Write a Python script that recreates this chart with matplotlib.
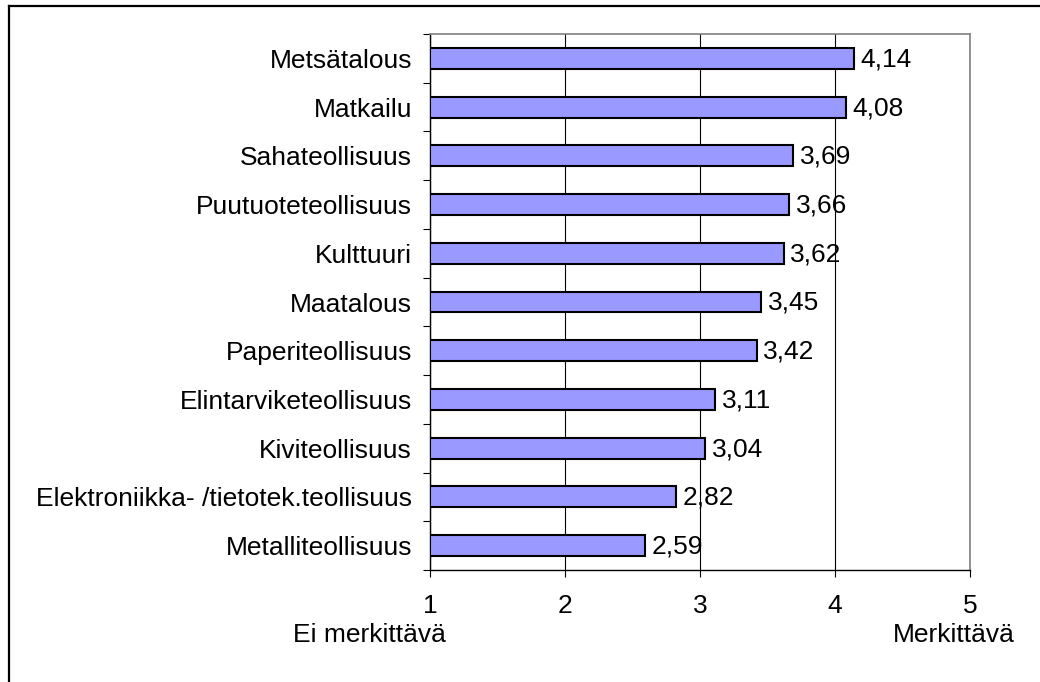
import numpy as np
import matplotlib as mpl
import matplotlib.pyplot as plt
from matplotlib.lines import Line2D

mpl.rcParams['font.family'] = ['Liberation Sans', 'DejaVu Sans']

# data
categories = ['Metsätalous', 'Matkailu', 'Sahateollisuus', 'Puutuoteteollisuus',
              'Kulttuuri', 'Maatalous', 'Paperiteollisuus', 'Elintarviketeollisuus',
              'Kiviteollisuus', 'Elektroniikka- /tietotek.teollisuus',
              'Metalliteollisuus']
values = [4.14, 4.08, 3.69, 3.66, 3.62, 3.45, 3.42, 3.11, 3.04, 2.82, 2.59]
x_ticks = [1, 2, 3, 4, 5]

fs = 19

fig = plt.figure(figsize=(10.4, 6.82), dpi=100)
ax = fig.add_axes([430 / 1040, 1 - 570 / 682, 540 / 1040, 536 / 682])

y = np.arange(len(categories))[::-1]
ax.barh(y, [v - 1 for v in values], left=1, height=0.43,
        color='#9999ff', edgecolor='black', linewidth=1.5, zorder=3)

for yi, v in zip(y, values):
    ax.text(v + 0.05, yi - 0.02, f'{v:.2f}'.replace('.', ','), va='center', ha='left',
            fontsize=fs, zorder=4)

ax.set_xlim(1, 5)
ax.set_ylim(-0.5, len(categories) - 0.5)
ax.set_xticks(x_ticks)
ax.set_xticklabels([str(t) for t in x_ticks], fontsize=fs)
ax.set_yticks(y)
ax.set_yticklabels(categories, fontsize=fs)
ax.set_yticks(np.arange(-0.5, len(categories), 1), minor=True)
ax.tick_params(axis='y', which='major', length=0, pad=13)
ax.tick_params(axis='y', which='minor', length=5, width=0.8, direction='out')
ax.tick_params(axis='x', length=5, width=0.8, direction='out', pad=12)

ax.grid(axis='x', color='black', linewidth=0.8, zorder=1)
ax.set_axisbelow(True)
for s in ['top', 'right']:
    ax.spines[s].set_color('#808080')
    ax.spines[s].set_linewidth(1.2)
for s in ['left', 'bottom']:
    ax.spines[s].set_color('black')
    ax.spines[s].set_linewidth(1.0)

fig.text(369 / 1040, 1 - 635 / 682, 'Ei merkittävä', ha='center', va='center', fontsize=fs)
fig.text(954 / 1040, 1 - 635 / 682, 'Merkittävä', ha='center', va='center', fontsize=fs)

# outer frame
fig.add_artist(Line2D([9 / 1040, 9 / 1040], [0, 1 - 6 / 682], color='black', lw=1.6,
                      transform=fig.transFigure))
fig.add_artist(Line2D([9 / 1040, 1], [1 - 6 / 682, 1 - 6 / 682], color='black', lw=1.6,
                      transform=fig.transFigure))

fig.savefig('out.png', dpi=100)
